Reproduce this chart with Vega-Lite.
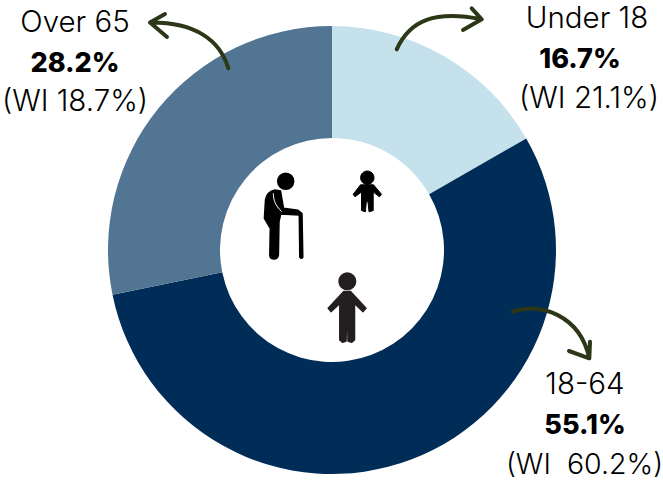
{
"$schema":"https://vega.github.io/schema/vega-lite/v6.json",
"width":663,"height":483,"autosize":{"type":"none"},"padding":0,
"background":"white",
"config":{"view":{"stroke":null},"axis":{"disable":true},"text":{"font":"Inter","fontSize":29.5,"color":"#000000","align":"center","baseline":"alphabetic"}},
"layer":[
{"data":{"values":[{"age":"Under 18","share":16.7,"rank":1},{"age":"18-64","share":55.1,"rank":2},{"age":"Over 65","share":28.2,"rank":3}]},
"mark":{"type":"arc","radius":224,"innerRadius":112},
"encoding":{
"x":{"datum":332,"type":"quantitative","scale":{"domain":[0,663],"nice":false}},
"y":{"datum":250,"type":"quantitative","scale":{"domain":[483,0],"nice":false}},
"theta":{"field":"share","type":"quantitative","stack":true},
"order":{"field":"rank","type":"ordinal"},
"color":{"field":"age","type":"nominal","legend":null,"scale":{"domain":["Under 18","18-64","Over 65"],"range":["#c5e2ec","#002d57","#527594"]}}
}},
{"data":{"values":[{"label":"Over 65"}]},"mark":{"type":"text","fontWeight":300},"encoding":{"x":{"datum":75,"type":"quantitative"},"y":{"datum":32,"type":"quantitative"},"text":{"field":"label"}}},
{"data":{"values":[{"label":"28.2%"}]},"mark":{"type":"text","fontWeight":800,"fontSize":27},"encoding":{"x":{"datum":75,"type":"quantitative"},"y":{"datum":72,"type":"quantitative"},"text":{"field":"label"}}},
{"data":{"values":[{"label":"(WI 18.7%)"}]},"mark":{"type":"text","fontWeight":300},"encoding":{"x":{"datum":75,"type":"quantitative"},"y":{"datum":111,"type":"quantitative"},"text":{"field":"label"}}},
{"data":{"values":[{"label":"Under 18"}]},"mark":{"type":"text","fontWeight":300},"encoding":{"x":{"datum":587,"type":"quantitative"},"y":{"datum":28,"type":"quantitative"},"text":{"field":"label"}}},
{"data":{"values":[{"label":"16.7%"}]},"mark":{"type":"text","fontWeight":800,"fontSize":27},"encoding":{"x":{"datum":580,"type":"quantitative"},"y":{"datum":68,"type":"quantitative"},"text":{"field":"label"}}},
{"data":{"values":[{"label":"(WI 21.1%)"}]},"mark":{"type":"text","fontWeight":300},"encoding":{"x":{"datum":589,"type":"quantitative"},"y":{"datum":108,"type":"quantitative"},"text":{"field":"label"}}},
{"data":{"values":[{"label":"18-64"}]},"mark":{"type":"text","fontWeight":300},"encoding":{"x":{"datum":585,"type":"quantitative"},"y":{"datum":394,"type":"quantitative"},"text":{"field":"label"}}},
{"data":{"values":[{"label":"55.1%"}]},"mark":{"type":"text","fontWeight":800,"fontSize":27},"encoding":{"x":{"datum":585,"type":"quantitative"},"y":{"datum":434,"type":"quantitative"},"text":{"field":"label"}}},
{"data":{"values":[{"label":"(WI\u00a0 60.2%)"}]},"mark":{"type":"text","fontWeight":300,"fontSize":28.5},"encoding":{"x":{"datum":584.5,"type":"quantitative"},"y":{"datum":474,"type":"quantitative"},"text":{"field":"label"}}},
{"data":{"values":[{"icon":"arrow over 65"}]},"mark":{"type":"point","size":4,"filled":false,"opacity":1,"stroke":"#2b3716","strokeWidth":4,"strokeCap":"round","strokeJoin":"round","shape":"M38.3,23.3 C30,-5 5,-23 -40,-22.5 M-25,-31 L-40,-22.5 L-23,-8"},"encoding":{"x":{"datum":190,"type":"quantitative"},"y":{"datum":45,"type":"quantitative"}}},
{"data":{"values":[{"icon":"arrow under 18"}]},"mark":{"type":"point","size":4,"filled":false,"opacity":1,"stroke":"#2b3716","strokeWidth":4,"strokeCap":"round","strokeJoin":"round","shape":"M-43.3,19.3 C-30,-10 -5,-20 41.7,-10.7 M31.7,-21.7 L41.7,-10.7 L23,0"},"encoding":{"x":{"datum":440,"type":"quantitative"},"y":{"datum":30,"type":"quantitative"}}},
{"data":{"values":[{"icon":"arrow 18-64"}]},"mark":{"type":"point","size":4,"filled":false,"opacity":1,"stroke":"#2b3716","strokeWidth":4,"strokeCap":"round","strokeJoin":"round","shape":"M-37.3,-23.3 C-10,-33 30,-20 39.3,23.3 M40,6.7 L39.3,23.3 L19,16"},"encoding":{"x":{"datum":550,"type":"quantitative"},"y":{"datum":335,"type":"quantitative"}}},
{"data":{"values":[{"icon":"older person"}]},"mark":{"type":"point","size":4,"filled":true,"opacity":1,"fill":"#000000","stroke":"#000000","strokeWidth":1.5,"strokeJoin":"round","shape":"M-7.3,-33.7 A8,8 0 1 1 8.7,-33.7 A8,8 0 1 1 -7.3,-33.7 Z M-10,-25 L-4.5,-24 L-1.5,-6.7 L13,-4.7 L17,-1.5 L17.8,42 Q16.3,44.5 14.8,42 L14.3,0 L-4.3,-1 L-6,6.7 L-6.6,40 Q-7,44 -11,44 Q-15.2,44 -15.2,40 L-14.7,13.3 L-20.6,3.3 L-19.5,-15 Q-18,-23.5 -10,-25 Z"},"encoding":{"x":{"datum":285,"type":"quantitative"},"y":{"datum":215,"type":"quantitative"}}},
{"data":{"values":[{"icon":"older person arm line"}]},"mark":{"type":"point","size":4,"filled":false,"opacity":1,"stroke":"#ffffff","strokeWidth":1,"shape":"M-11.7,-21.7 C-11.5,-15 -10,-10 -3.3,-3.3"},"encoding":{"x":{"datum":285,"type":"quantitative"},"y":{"datum":215,"type":"quantitative"}}},
{"data":{"values":[{"icon":"child"}]},"mark":{"type":"point","size":4,"filled":true,"opacity":1,"fill":"#000000","stroke":"#000000","strokeWidth":1,"strokeJoin":"round","shape":"M-6.4,-12.3 A6.7,6.7 0 1 1 7,-12.3 A6.7,6.7 0 1 1 -6.4,-12.3 Z M-6.5,-5.2 L6.5,-5.2 L14.5,4.3 L12.5,6.8 L6.2,2 L6.2,20.5 L2,21.8 L1,11.7 L-0.7,11.7 L-1.6,21.8 L-5.5,20.5 L-5.5,2 L-12,6.8 L-13.8,4.3 Z"},"encoding":{"x":{"datum":367,"type":"quantitative"},"y":{"datum":190,"type":"quantitative"}}},
{"data":{"values":[{"icon":"adult"}]},"mark":{"type":"point","size":4,"filled":true,"opacity":1,"fill":"#231f20","stroke":"#231f20","strokeWidth":1.5,"strokeJoin":"round","shape":"M-8,-25.7 A8.3,8.3 0 1 1 8.6,-25.7 A8.3,8.3 0 1 1 -8,-25.7 Z M-3.2,-15.5 L3.5,-15.5 L19,1.3 L16,4.6 L7.5,-3.5 L7.5,33 L4.5,35.3 L1,34 L0.7,13 L-0.3,13 L-1,34 L-4.3,35.3 L-7.2,33 L-7.2,-3.5 L-16,4.6 L-18.8,1.3 Z"},"encoding":{"x":{"datum":347,"type":"quantitative"},"y":{"datum":307,"type":"quantitative"}}}
]
}
